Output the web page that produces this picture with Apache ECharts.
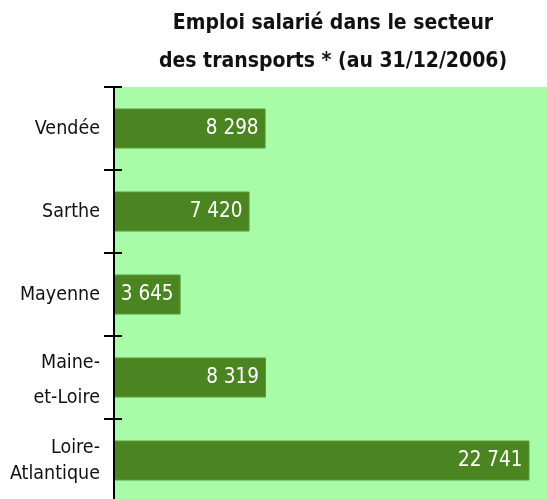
<!DOCTYPE html>
<html>
<head>
<meta charset="utf-8">
<script src="https://cdn.jsdelivr.net/npm/echarts@6/dist/echarts.min.js"></script>
<style>html,body{margin:0;padding:0;background:#fff}#c{width:547px;height:499px}</style>
</head>
<body>
<div id="c"></div>
<script>
const categories = ['Vendée', 'Sarthe', 'Mayenne', 'Maine-\net-Loire', 'Loire-\nAtlantique'];
const values = [8298, 7420, 3645, 8319, 22741];
const titleText = 'Emploi salarié dans le secteur\ndes transports * (au 31/12/2006)';

const FONT = '"DejaVu Sans Condensed", "Liberation Sans Narrow", sans-serif';
const chart = echarts.init(document.getElementById('c'));
const fmt = v => String(v).replace(/\B(?=(\d{3})+(?!\d))/g, ' ');
const richKeys = { 3: 'm', 4: 'l' };
chart.setOption({
  animation: false,
  title: {
    text: titleText,
    left: 328, top: 0, textAlign: 'center',
    textStyle: { fontFamily: FONT, fontSize: 21, fontWeight: 'bold', color: '#111', lineHeight: 38 }
  },
  grid: { left: 114, right: 0, top: 87, height: 415, outerBoundsMode: 'none', containLabel: false, show: true, backgroundColor: '#a8fca8', borderWidth: 0 },
  xAxis: { type: 'value', min: 0, max: 23700, show: false },
  yAxis: [{
    type: 'category', inverse: true, data: categories,
    axisLine: { show: true, lineStyle: { color: '#000', width: 2 } },
    axisTick: { show: true, alignWithLabel: false, interval: 0, length: 10, lineStyle: { color: '#000', width: 2 } },
    axisLabel: {
      fontFamily: FONT, fontSize: 19.5, color: '#111', margin: 14, align: 'right', interval: 0,
      formatter: (v, i) => {
        const k = richKeys[i];
        if (!k) return v;
        return v.split('\n').map((p, j) => '{' + k + j + '|' + p + '}').join('\n');
      },
      rich: {
        m0: { lineHeight: 41, fontFamily: FONT, fontSize: 19.5, color: '#111', align: 'right' },
        m1: { lineHeight: 29, fontFamily: FONT, fontSize: 19.5, color: '#111', align: 'right' },
        l0: { lineHeight: 27, fontFamily: FONT, fontSize: 19.5, color: '#111', align: 'right' },
        l1: { lineHeight: 25, fontFamily: FONT, fontSize: 19.5, color: '#111', align: 'right' }
      }
    },
    z: 5
  }, {
    type: 'category', inverse: true, position: 'left', data: categories,
    axisLine: { show: false },
    axisTick: { show: true, inside: true, interval: 0, length: 8, lineStyle: { color: '#000', width: 2 } },
    axisLabel: { show: false },
    z: 5
  }],
  series: [{
    type: 'bar', data: values, barWidth: 40,
    itemStyle: { color: '#4a8521', borderColor: '#5b9a35', borderWidth: 1 },
    label: { show: true, position: 'insideRight', distance: 7, color: '#fff', fontFamily: FONT, fontSize: 20.5, formatter: p => fmt(p.value) }
  }]
});
</script>
</body>
</html>
